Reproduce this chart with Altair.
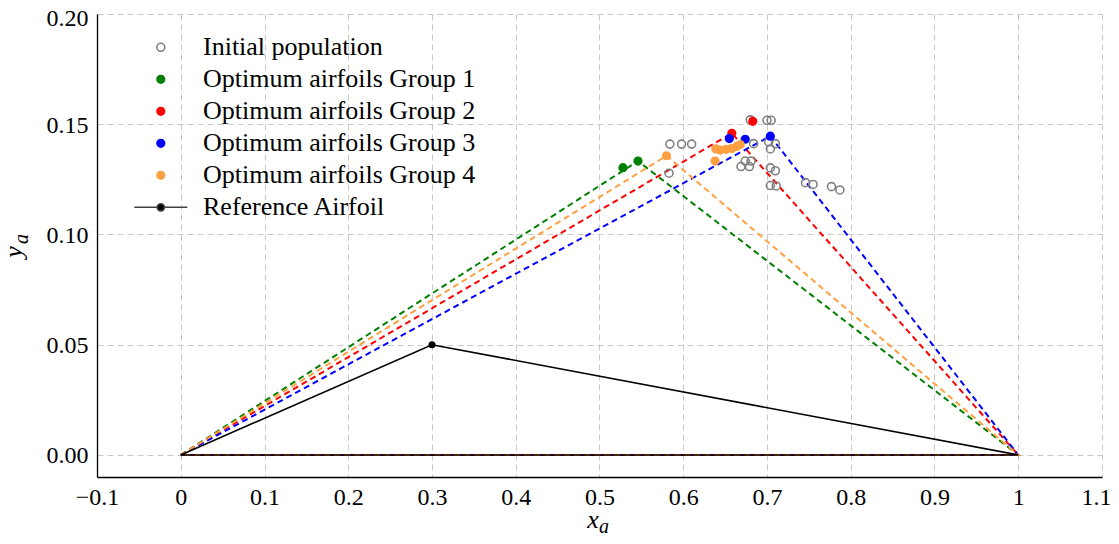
import altair as alt
import pandas as pd

# ---------------- data ----------------
series_labels = [
    "Initial population",
    "Optimum airfoils Group 1",
    "Optimum airfoils Group 2",
    "Optimum airfoils Group 3",
    "Optimum airfoils Group 4",
    "Reference Airfoil",
]
group_labels = series_labels[1:5]
group_colors = ["#008000", "#ff0000", "#0000ff", "#ffa040"]

init_x = [0.584, 0.598, 0.610, 0.583, 0.680, 0.700, 0.705, 0.684, 0.702, 0.710,
          0.704, 0.674, 0.681, 0.669, 0.679, 0.704, 0.710, 0.704, 0.711, 0.746,
          0.755, 0.777, 0.787]
init_y = [0.1410, 0.1410, 0.1410, 0.1278, 0.1520, 0.1518, 0.1518, 0.1412, 0.1420, 0.1412,
          0.1388, 0.1333, 0.1333, 0.1308, 0.1308, 0.1302, 0.1289, 0.1222, 0.1220, 0.1235,
          0.1227, 0.1217, 0.1202]

g1_x = [0.528, 0.546]
g1_y = [0.1303, 0.1333]
g2_x = [0.658, 0.683]
g2_y = [0.1459, 0.1513]
g3_x = [0.655, 0.674, 0.704]
g3_y = [0.1435, 0.1432, 0.1446]
g4_x = [0.580, 0.638, 0.639, 0.644, 0.651, 0.658, 0.664, 0.668]
g4_y = [0.1357, 0.1333, 0.1388, 0.1383, 0.1386, 0.1390, 0.1400, 0.1408]

# best airfoil of each group (maximum-thickness point), drawn as dashed triangles
peak_x = [0.546, 0.658, 0.704, 0.580]
peak_y = [0.1333, 0.1459, 0.1446, 0.1357]

# reference airfoil
ref_x = [0.0, 0.3, 1.0, 0.0]
ref_y = [0.0, 0.05, 0.0, 0.0]

x_ticks = [-0.1, 0.0, 0.1, 0.2, 0.3, 0.4, 0.5, 0.6, 0.7, 0.8, 0.9, 1.0, 1.1]
y_ticks = [0.0, 0.05, 0.10, 0.15, 0.20]

# axis titles: main letter + subscript
x_title = ["x", "a"]
y_title = ["y", "a"]

SERIF = "Times New Roman, Liberation Serif, DejaVu Serif, serif"

# ---------------- tables ----------------
pts = []
for lab, xs, ys in [(series_labels[0], init_x, init_y),
                    (series_labels[1], g1_x, g1_y),
                    (series_labels[2], g2_x, g2_y),
                    (series_labels[3], g3_x, g3_y),
                    (series_labels[4], g4_x, g4_y)]:
    for a, b in zip(xs, ys):
        pts.append({"x": a, "y": b, "series": lab})
pts_df = pd.DataFrame(pts)

lines = []
for lab, px, py in zip(group_labels, peak_x, peak_y):
    for i, (a, b) in enumerate([(0.0, 0.0), (px, py), (1.0, 0.0), (0.0, 0.0)]):
        lines.append({"x": a, "y": b, "group": lab, "ord": i})
lines_df = pd.DataFrame(lines)

ref_df = pd.DataFrame({"x": ref_x, "y": ref_y, "ord": list(range(len(ref_x)))})
ref_pt_df = ref_df.iloc[[1]]

# ---------------- scales / shapes ----------------
SYM = 1320           # symbol area -> unit = sqrt(SYM)/2 px
U = SYM ** 0.5 / 2

def circ(r):
    return f"M{-r},0A{r},{r} 0 1,1 {r},0A{r},{r} 0 1,1 {-r},0Z"

r_open = round(4.0 / U, 3)
r_dot = round(3.8 / U, 3)
r_leg = round(3.6 / U, 3)
half = round(26.5 / U, 3)
line_dot = f"M{-half},0L{-r_leg},0M{r_leg},0L{half},0" + circ(r_leg)
shape_range = [circ(r_open), circ(r_dot), circ(r_dot), circ(r_dot), circ(r_dot), line_dot]
fill_range = ["transparent"] + group_colors + ["#000000"]
stroke_range = ["#808080"] + group_colors + ["#404040"]

xscale = alt.Scale(domain=[-0.1, 1.1], nice=False, zero=False)
yscale = alt.Scale(domain=[-0.01, 0.2], nice=False, zero=False)

X = alt.X("x:Q", scale=xscale, axis=alt.Axis(
    values=x_ticks, format="~f", title=None,
    labelAlign={"condition": {"test": "datum.value > 1.05", "value": "right"}, "value": "center"},
    labelOffset={"condition": {"test": "datum.value > 1.05", "value": 9}, "value": 0},
))
Y = alt.Y("y:Q", scale=yscale, axis=alt.Axis(
    values=y_ticks, format=".2f", title=None,
    labelBaseline="alphabetic",
    labelOffset={"condition": {"test": "datum.value > 0.19", "value": 11}, "value": 8},
))

group_lines = alt.Chart(lines_df).mark_line(strokeWidth=2, strokeDash=[6, 4]).encode(
    x=X, y=Y, order="ord:Q", detail="group:N",
    color=alt.Color("group:N", scale=alt.Scale(domain=group_labels, range=group_colors),
                    legend=None))

ref_line = alt.Chart(ref_df).mark_line(color="black", strokeWidth=1.6).encode(
    x=X, y=Y, order="ord:Q")

ref_point = alt.Chart(ref_pt_df).mark_point(filled=True, color="black", size=50,
                                             shape="circle", opacity=1).encode(x=X, y=Y)

SZ = SYM ** 0.5
legend = alt.Legend(title=None, orient="none", legendX=round(160 - 97 - SZ / 2, 1),
                    legendY=round(48 - 14 - SZ / 2 - 1.5, 1),
                    labelFont=SERIF, labelFontSize=26, labelColor="black",
                    labelOffset=round(59.5 - SZ, 1), rowPadding=0, padding=0,
                    symbolSize=SYM, symbolStrokeWidth=1.6, labelLimit=600)

scatter = alt.Chart(pts_df).mark_point(filled=True, size=SYM, strokeWidth=1.6,
                                       opacity=1).encode(
    x=X, y=Y,
    shape=alt.Shape("series:N", scale=alt.Scale(domain=series_labels, range=shape_range),
                    legend=legend),
    fill=alt.Fill("series:N", scale=alt.Scale(domain=series_labels, range=fill_range),
                  legend=legend),
    stroke=alt.Stroke("series:N", scale=alt.Scale(domain=series_labels, range=stroke_range),
                      legend=legend),
)

# axis titles with subscripts (pixel offsets relative to plot area)
def title_text(txt, px, py, size, angle=0):
    return alt.Chart(pd.DataFrame({"t": [txt]})).mark_text(
        font=SERIF, fontSize=size, fontStyle="italic", color="black",
        align="center", baseline="alphabetic", angle=angle,
    ).encode(text="t:N", x=alt.value(px), y=alt.value(py))

titles = [
    title_text(x_title[0], 496, 514, 26),
    title_text(x_title[1], 507, 519, 20),
    title_text(y_title[0], -75, 238, 26, 270),
    title_text(y_title[1], -69, 225, 20, 270),
]

chart = alt.layer(group_lines, ref_line, ref_point, scatter, *titles).properties(
    width=1005, height=463,
    autosize=alt.AutoSizeParams(type="none"),
    padding={"left": 89, "top": 6, "right": 9, "bottom": 59},
).configure_view(stroke=None).configure_axis(
    domainColor="black", domainWidth=1.3,
    grid=True, gridColor="#c8c8c8", gridDash=[6, 4], gridWidth=1,
    ticks=False,
    labelFont=SERIF, labelFontSize=24, labelColor="black",
).configure_axisX(labelPadding=8, labelFlush=False
).configure_axisY(labelPadding=9)

chart.save("out.html", embed_options={"renderer": "svg", "actions": False})
